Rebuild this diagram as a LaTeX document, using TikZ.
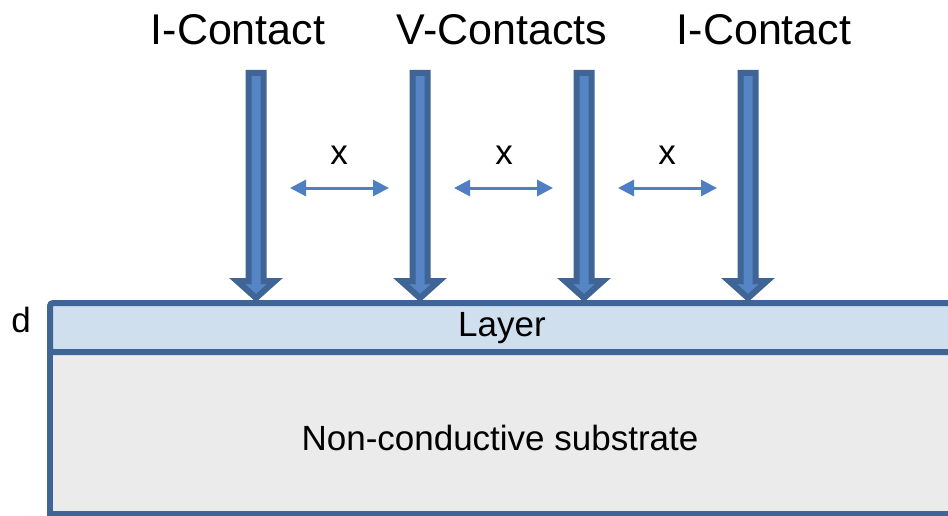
\documentclass[tikz,border=0pt]{standalone}
\usepackage{fontspec}
\setmainfont{Liberation Sans}
\usetikzlibrary{arrows.meta}
\definecolor{edgeblue}{HTML}{3F6496}
\definecolor{fillblue}{HTML}{5585C5}
\definecolor{layerfill}{HTML}{D0DFEE}
\definecolor{subfill}{HTML}{EBEBEB}
\definecolor{gapblue}{HTML}{4D7FC2}
\tikzset{
  contactarrow/.style={draw=edgeblue, fill=fillblue, line width=6pt, line join=miter},
  gaparrow/.style={gapblue, line width=3pt, {Triangle[length=16pt,width=16pt]}-{Triangle[length=16pt,width=16pt]}},
  title/.style={font=\fontsize{43}{49}\selectfont, inner sep=0pt},
  lbl/.style={font=\fontsize{35}{41}\selectfont, inner sep=0pt},
  slab/.style={draw=edgeblue, line width=6pt}
}
\newcommand{\contactat}[1]{%
  \draw[contactarrow] (#1-7.5,73) -- (#1+7.5,73) -- (#1+7.5,281) -- (#1+19,281)
    -- (#1,298) -- (#1-19,281) -- (#1-7.5,281) -- cycle;}
\begin{document}
\begin{tikzpicture}[x=1pt,y=-1pt]
  \useasboundingbox (0,0) rectangle (948,516);
  \clip (0,0) rectangle (948,516);

  % substrate and conductive layer
  \draw[slab, fill=subfill] (50,352) rectangle (980,514);
  \draw[slab, fill=layerfill, rounded corners=3pt] (50,352) -- (50,303) -- (980,303) -- (980,352) -- cycle;
  \node[lbl] (layer) at (502,328) {Layer};
  \node[lbl] (substrate) at (500,438) {Non-conductive substrate};
  \node[lbl] (d) at (21,320) {d};

  % contacts
  \contactat{256}
  \contactat{420}
  \contactat{584}
  \contactat{748}

  \node[title] (i1) at (238,30) {I-Contact};
  \node[title] (v) at (502,30) {V-Contacts};
  \node[title] (i2) at (764,30) {I-Contact};

  % contact spacing
  \coordinate (a1) at (290,188); \coordinate (b1) at (389,188);
  \coordinate (a2) at (454,188); \coordinate (b2) at (553,188);
  \coordinate (a3) at (618,188); \coordinate (b3) at (717,188);
  \draw[gaparrow] (a1) -- (b1);
  \draw[gaparrow] (a2) -- (b2);
  \draw[gaparrow] (a3) -- (b3);
  \node[lbl] (x1) at (339,155) {x};
  \node[lbl] (x2) at (504,155) {x};
  \node[lbl] (x3) at (667,155) {x};
\end{tikzpicture}
\end{document}
